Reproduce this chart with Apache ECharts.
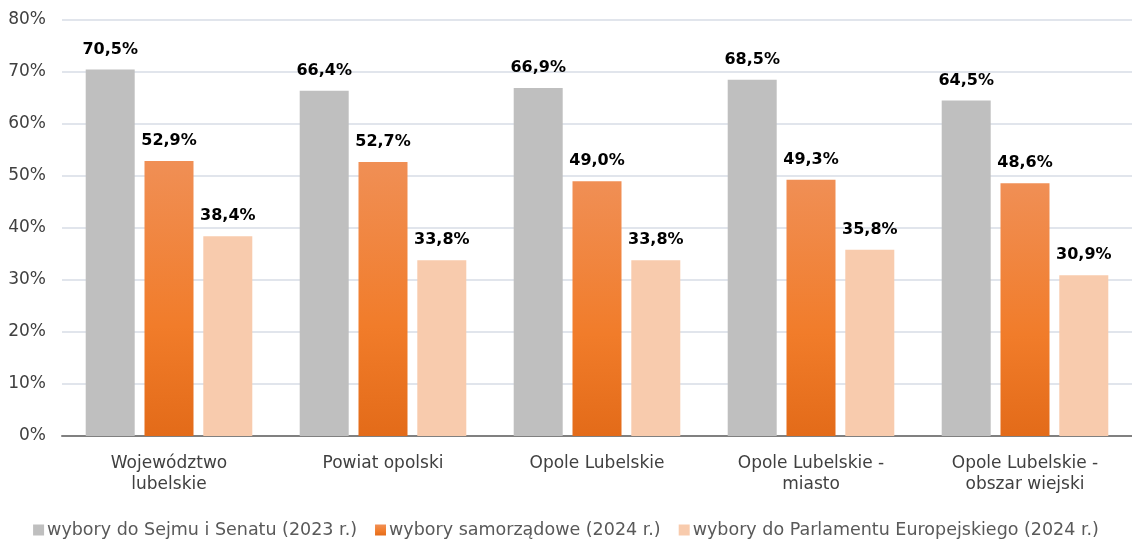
<!DOCTYPE html>
<html>
<head>
<meta charset="utf-8">
<script src="https://cdn.jsdelivr.net/npm/echarts@6/dist/echarts.min.js"></script>
<style>
  html, body { margin: 0; padding: 0; background: #fff; }
  #main { width: 1132px; height: 544px; }
</style>
</head>
<body>
<div id="main"></div>
<script>
var categories = ['Województwo\nlubelskie', 'Powiat opolski', 'Opole Lubelskie', 'Opole Lubelskie -\nmiasto', 'Opole Lubelskie -\nobszar wiejski'];
var seriesNames = ['wybory do Sejmu i Senatu (2023 r.)', 'wybory samorządowe (2024 r.)', 'wybory do Parlamentu Europejskiego (2024 r.)'];
var sejm = [70.5, 66.4, 66.9, 68.5, 64.5];
var samorzad = [52.9, 52.7, 49.0, 49.3, 48.6];
var parlament = [38.4, 33.8, 33.8, 35.8, 30.9];

var font = '"DejaVu Sans", sans-serif';

var orangeGrad = new echarts.graphic.LinearGradient(0, 0, 0, 1, [
    { offset: 0, color: '#f08f55' },
    { offset: 0.6, color: '#f17c2a' },
    { offset: 1, color: '#e36b19' }
]);

function label() {
    return {
        show: true,
        position: 'top',
        distance: 12,
        fontFamily: font,
        fontWeight: 'bold',
        fontSize: 16,
        color: '#000',
        formatter: function (p) {
            return p.value.toFixed(1).replace('.', ',') + '%';
        }
    };
}

var myChart = echarts.init(document.getElementById('main'));

var option = {
    animation: false,
    textStyle: { fontFamily: font },
    grid: { left: 62, right: 0, top: 20, bottom: 108 },
    legend: {
        bottom: 0,
        left: 'center',
        itemWidth: 11,
        itemHeight: 11,
        itemGap: 18,
        icon: 'rect',
        textStyle: { fontSize: 17.5, color: '#595959', fontFamily: font, padding: [0, 0, 0, -2] },
        data: seriesNames
    },
    xAxis: {
        type: 'category',
        data: categories,
        axisTick: { show: false },
        axisLine: { lineStyle: { color: '#808080', width: 2 } },
        axisLabel: { fontSize: 17, color: '#404040', margin: 17, lineHeight: 21, interval: 0 }
    },
    yAxis: {
        type: 'value',
        min: 0,
        max: 80,
        interval: 10,
        axisLine: { show: false },
        axisTick: { show: false },
        splitLine: { lineStyle: { color: '#e1e5ec', width: 2 } },
        axisLabel: { fontSize: 17, color: '#404040', margin: 16, formatter: '{value}%' }
    },
    series: [
        {
            name: seriesNames[0], type: 'bar', data: sejm,
            barWidth: 49, barGap: '20%',
            itemStyle: { color: '#bfbfbf' },
            label: label()
        },
        {
            name: seriesNames[1], type: 'bar', data: samorzad,
            barWidth: 49, barGap: '20%',
            itemStyle: { color: orangeGrad },
            label: label()
        },
        {
            name: seriesNames[2], type: 'bar', data: parlament,
            barWidth: 49, barGap: '20%',
            itemStyle: { color: '#f8cbad' },
            label: label()
        }
    ]
};

myChart.setOption(option);
</script>
</body>
</html>
